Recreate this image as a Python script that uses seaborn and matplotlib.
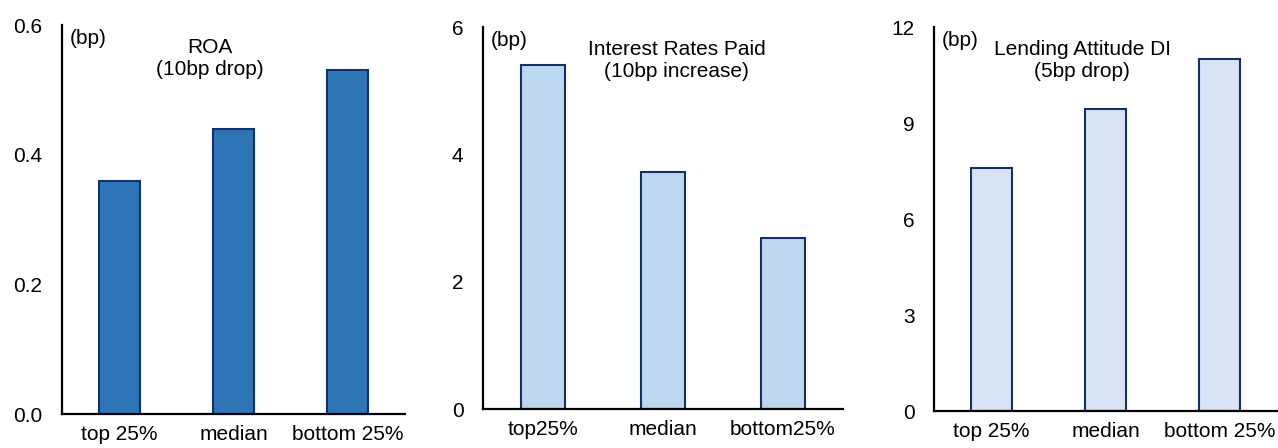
import matplotlib
matplotlib.use("Agg")
import matplotlib.pyplot as plt
import seaborn as sns
import pandas as pd

sns.set_theme(style="white")
plt.rcParams['font.family'] = ['Liberation Sans', 'DejaVu Sans']

cats_roa = ["top 25%", "median", "bottom 25%"]
vals_roa = [0.36, 0.44, 0.53]
cats_int = ["top25%", "median", "bottom25%"]
vals_int = [5.41, 3.73, 2.69]
cats_lend = ["top 25%", "median", "bottom 25%"]
vals_lend = [7.6, 9.45, 11.0]

titles = ["ROA\n(10bp drop)", "Interest Rates Paid\n(10bp increase)", "Lending Attitude DI\n(5bp drop)"]
fills = ["#2E75B6", "#BDD7EE", "#DAE3F3"]
edge = "#12306E"

W, H = 1278, 448
fig = plt.figure(figsize=(W / 100, H / 100), dpi=100)

# axes boxes in pixels: left, top, right, bottom
boxes = [(62, 25, 405, 414), (483, 27, 843, 409), (934, 27, 1277, 411)]
ylims = [(0, 0.6), (0, 6), (0, 12)]
yticks = [[0.0, 0.2, 0.4, 0.6], [0, 2, 4, 6], [0, 3, 6, 9, 12]]
yfmt = ["{:.1f}", "{:.0f}", "{:.0f}"]
title_x = [0.43, 0.538, 0.432]

data = [(cats_roa, vals_roa), (cats_int, vals_int), (cats_lend, vals_lend)]

for i, ((cats, vals), (l, t, r, b)) in enumerate(zip(data, boxes)):
    ax = fig.add_axes([l / W, 1 - b / H, (r - l) / W, (b - t) / H])
    df = pd.DataFrame({"cat": cats, "val": vals})
    sns.barplot(data=df, x="cat", y="val", color=fills[i], saturation=1,
                edgecolor=edge, linewidth=1.5, width=0.36, ax=ax)
    ax.set_xlim(-0.5, 2.5)
    ax.set_ylim(*ylims[i])
    ax.set_yticks(yticks[i])
    ax.set_yticklabels([yfmt[i].format(v) for v in yticks[i]])
    ax.set_xlabel("")
    ax.set_ylabel("")
    for s in ["top", "right"]:
        ax.spines[s].set_visible(False)
    for s in ["left", "bottom"]:
        ax.spines[s].set_color("black")
        ax.spines[s].set_linewidth(1.6)
    ax.tick_params(axis="y", length=0, pad=14, labelsize=15, colors="black")
    ax.tick_params(axis="x", length=0, pad=8, labelsize=15, colors="black")
    ax.text(8 / (r - l), 1 - 13 / (b - t), "(bp)", transform=ax.transAxes,
            ha="left", va="center", fontsize=15, color="black")
    ax.text(title_x[i], 1 - 33 / (b - t), titles[i], transform=ax.transAxes,
            ha="center", va="center", fontsize=15, color="black", linespacing=1.2)
    ax.set_facecolor("white")

fig.savefig("out.png", dpi=100, facecolor="white")
